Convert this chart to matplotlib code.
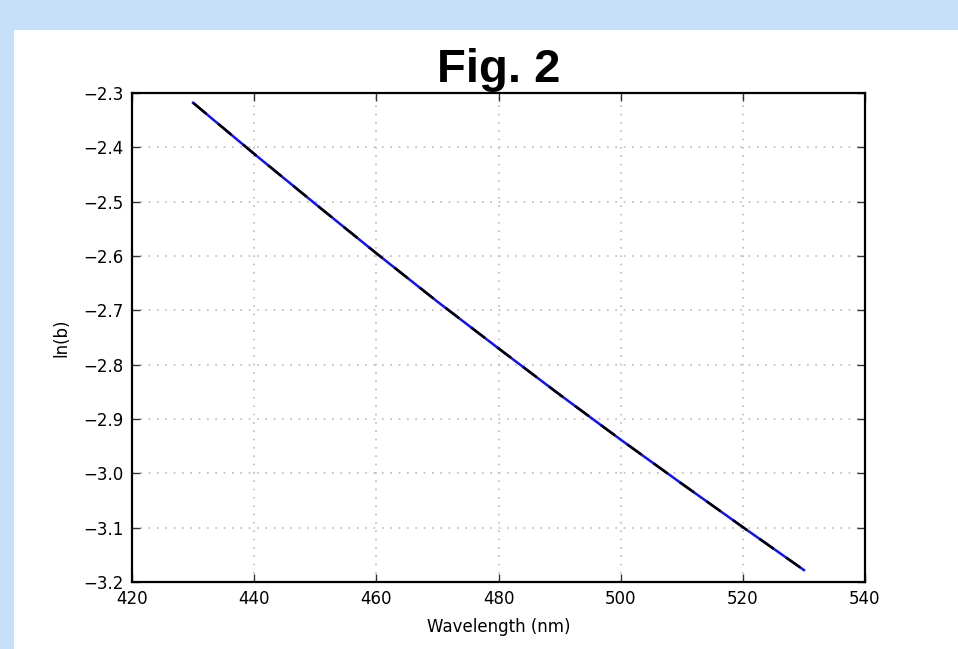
import numpy as np
import matplotlib.pyplot as plt
from matplotlib.patches import Rectangle

# values
wavelength = [430, 440, 450, 460, 470, 480, 490, 500, 510, 520, 530]
ln_b = [-2.318, -2.412, -2.504, -2.595, -2.684, -2.770, -2.855, -2.938, -3.019, -3.099, -3.178]
ln_b_fit = [-2.318, -2.412, -2.504, -2.595, -2.684, -2.770, -2.855, -2.938, -3.019, -3.099, -3.178]

xticks = [420, 440, 460, 480, 500, 520, 540]
yticks = [-2.3, -2.4, -2.5, -2.6, -2.7, -2.8, -2.9, -3.0, -3.1, -3.2]

fig = plt.figure(figsize=(9.58, 6.49), dpi=100, facecolor='#c6e0fa')
# white panel on the light blue page
fig.patches.append(Rectangle((14 / 958, 0), 1 - 14 / 958, 1 - 30 / 649,
                             transform=fig.transFigure, facecolor='white',
                             edgecolor='none', zorder=-10))

ax = fig.add_axes([132 / 958, 1 - 582 / 649, (865 - 132) / 958, (582 - 93) / 649])

ax.plot(wavelength, ln_b, color='#1010ff', lw=1.8, zorder=3)
ax.plot(wavelength, ln_b_fit, color='black', lw=1.8, dashes=(7, 6), zorder=4)

ax.set_xlim(420, 540)
ax.set_ylim(-3.2, -2.3)
ax.set_xticks(xticks)
ax.set_yticks(yticks)
ax.set_yticklabels([('%.1f' % v).replace('-', '\u2212') for v in yticks])
ax.set_xticklabels([str(v) for v in xticks])

ax.grid(True, color='#bbbbbb', linestyle=(0, (1, 4)), lw=1.2)
ax.tick_params(direction='in', length=6, width=1, top=True, right=True,
               labelsize=12, pad=6, color='#333333')
for s in ax.spines.values():
    s.set_linewidth(1.6)

ax.set_xlabel('Wavelength (nm)', fontsize=12, labelpad=7)
ax.set_ylabel('ln(b)', fontsize=12, labelpad=9)
ax.set_title('Fig. 2', fontsize=34, fontweight='bold', family='Liberation Sans', pad=8)

fig.savefig('out.png', dpi=100, facecolor=fig.get_facecolor())
